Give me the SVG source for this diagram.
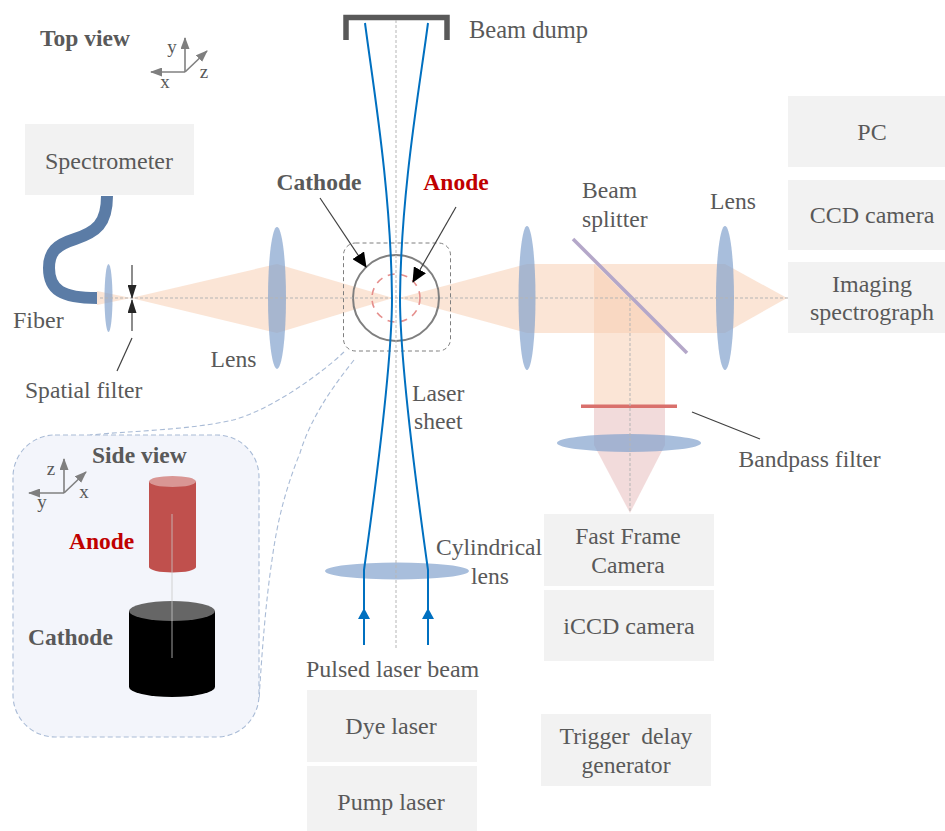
<svg xmlns="http://www.w3.org/2000/svg" width="945" height="831" viewBox="0 0 945 831">
<style>
text{font-family:"Liberation Serif","Times New Roman",serif;font-size:24px;fill:#595959}
.b{font-weight:bold;font-size:23.5px}.r{fill:#c00000}.m{text-anchor:middle}
.n{font-size:23.6px}
.ax{font-size:19px;fill:#595959}
.box{fill:#f2f2f2}
.beam{fill:#f8cbad;fill-opacity:.5}
.pink{fill:#e6b8b7;fill-opacity:.5}
.lens{fill:#7f9fcb;fill-opacity:.68}
.axis{fill:none;stroke:#b5b5b5;stroke-width:1;stroke-dasharray:3 2}
.laser{fill:none;stroke:#0070c0;stroke-width:2}
.lead{fill:none;stroke:#404040;stroke-width:1.200}
.ar{fill:none;stroke:#808080;stroke-width:1.600}
.link{fill:none;stroke:#a9bbd6;stroke-width:1.100;stroke-dasharray:5 3}
</style>
<defs>
<marker id="tip" markerUnits="userSpaceOnUse" markerWidth="15" markerHeight="14" refX="14" refY="7" orient="auto"><path d="M0,0L15,7L0,14Z" fill="#000"/></marker>
<marker id="tipS" markerUnits="userSpaceOnUse" markerWidth="14" markerHeight="9" refX="13" refY="4.500" orient="auto"><path d="M0,0L14,4.500L0,9Z" fill="#262626"/></marker>
<marker id="ga" markerUnits="userSpaceOnUse" markerWidth="12" markerHeight="9" refX="11" refY="4.500" orient="auto"><path d="M0,0L12,4.500L0,9Z" fill="#7f7f7f"/></marker>
</defs>

<g id="beams">
<polygon class="beam" points="97,291 131,298 97,305"/>
<polygon class="beam" points="131,298 277,264 277,333"/>
<polygon class="beam" points="277,264 393,298 277,333"/>
<polygon class="beam" points="399,298 527,264 527,333"/>
<rect class="beam" x="527" y="264" width="198" height="69"/>
<polygon class="beam" points="725,264 787,298 725,333"/>
<polygon class="beam" points="594,264 665,333 665,405 594,405"/>
<polygon class="pink" points="594,408 665,408 665,445 630,513 594,445"/>
</g>

<g id="side-view-links">
<path class="link" d="M344,352C320,375 270,410 233,420C190,430 130,431 90,435"/>
<path class="link" d="M354,360C330,390 310,420 300,453C285,490 277,523 272,560C266,600 262,650 259,700"/>
</g>

<g id="spectrometer"><rect class="box" x="25" y="124" width="169" height="71"/><text class="m" x="109" y="168.500">Spectrometer</text></g>
<g id="pc"><rect class="box" x="788" y="96" width="157" height="71"/><text class="m" x="872" y="140">PC</text></g>
<g id="ccd-camera"><rect class="box" x="788" y="180" width="157" height="70"/><text class="m" x="872" y="223">CCD camera</text></g>
<g id="imaging-spectrograph"><rect class="box" x="788" y="262" width="157" height="71"/><text class="m" x="872" y="291.500">Imaging</text><text class="m" x="872" y="319.500">spectrograph</text></g>
<g id="fast-frame-camera"><rect class="box" x="544" y="514" width="170" height="72"/><text class="m n" x="628" y="544">Fast Frame</text><text class="m n" x="628" y="572.500">Camera</text></g>
<g id="iccd-camera"><rect class="box" x="544" y="590" width="170" height="71"/><text class="m" x="629" y="634">iCCD camera</text></g>
<g id="trigger-delay-generator"><rect class="box" x="541" y="714" width="170" height="72"/><text class="m n" x="626" y="744" xml:space="preserve">Trigger  delay</text><text class="m n" x="626" y="772.500">generator</text></g>
<g id="dye-laser"><rect class="box" x="307" y="690" width="170" height="72"/><text class="m" x="391" y="734">Dye laser</text></g>
<g id="pump-laser"><rect class="box" x="307" y="766" width="170" height="65"/><text class="m" x="391" y="809.500">Pump laser</text></g>

<g id="beam-dump"><path d="M346,40V17.500H447V40" fill="none" stroke="#595959" stroke-width="5.500"/><text x="469" y="37.500" style="font-size:24.500px">Beam dump</text></g>

<g id="fiber"><path d="M107,196C107,224 96,232 75,239C56,245 49,252 49,268C49,290 62,298 97,298" fill="none" stroke="#5b7ca6" stroke-width="12"/><text x="13" y="327.500">Fiber</text></g>

<g id="optics">
<ellipse class="lens" cx="108.500" cy="298" rx="4" ry="34"/>
<ellipse class="lens" cx="277" cy="298" rx="9" ry="71"/>
<ellipse class="lens" cx="527" cy="298" rx="8.500" ry="72"/>
<ellipse class="lens" cx="725" cy="298" rx="9" ry="72"/>
<ellipse class="lens" cx="629" cy="443" rx="72" ry="9"/>
<ellipse class="lens" cx="397" cy="571" rx="72" ry="8.500"/>
<line x1="573" y1="239" x2="687" y2="353" stroke="#b4a7c9" stroke-width="3.500"/>
<rect x="581" y="404.500" width="96" height="3.500" fill="#d9706c"/>
</g>

<g id="electrodes">
<rect x="343.500" y="243" width="107" height="108" rx="12" fill="none" stroke="#7f7f7f" stroke-width="1" stroke-dasharray="4 3"/>
<circle cx="396" cy="298" r="43" fill="none" stroke="#7f7f7f" stroke-width="2"/>
<circle cx="396" cy="298" r="24" fill="none" stroke="#e58e8c" stroke-width="1.600" stroke-dasharray="7 6"/>
</g>

<g id="connectors">
<path class="axis" d="M396,20V648"/>
<path class="axis" d="M100,298H790"/>
<path class="axis" d="M630,298V513"/>
<path class="laser" d="M365,23C373,85 391,190 392,298C392,360 378,470 364,570V645"/>
<path class="laser" d="M428,23C420,85 401,190 400,298C400,360 414,470 428,570V645"/>
<polygon points="364,608 358,619 370,619" fill="#0070c0"/>
<polygon points="428,608 422,619 434,619" fill="#0070c0"/>
<line class="lead" x1="320" y1="198" x2="366" y2="267" marker-end="url(#tip)"/>
<line class="lead" x1="456" y1="207" x2="413" y2="282" marker-end="url(#tip)"/>
<line class="lead" x1="132" y1="265" x2="132" y2="298" stroke-width="1.500" marker-end="url(#tipS)"/>
<line class="lead" x1="132" y1="331" x2="132" y2="300" stroke-width="1.500" marker-end="url(#tipS)"/>
<line class="lead" x1="132" y1="338" x2="117" y2="371"/>
<line class="lead" x1="692" y1="412" x2="760" y2="439"/>
</g>

<g id="top-view">
<text class="b" x="40" y="46">Top view</text>
<path class="ar" d="M185,72V38" marker-end="url(#ga)"/><path class="ar" d="M185,72H151" marker-end="url(#ga)"/><path class="ar" d="M185,72L207,51" marker-end="url(#ga)"/>
<text class="ax m" x="172" y="53">y</text><text class="ax m" x="204" y="78">z</text><text class="ax m" x="165" y="88">x</text>
</g>

<g id="labels">
<text class="b m" x="319" y="190">Cathode</text>
<text class="b r m" x="456" y="190">Anode</text>
<text class="n" x="582" y="197.500">Beam</text>
<text class="n" x="582" y="226.500">splitter</text>
<text class="n" x="710" y="208.500">Lens</text>
<text class="n" x="210.500" y="366.500">Lens</text>
<text class="n" x="25" y="397.500">Spatial filter</text>
<text class="n" x="412" y="400.500">Laser</text>
<text class="n" x="414" y="428.500">sheet</text>
<text class="n" x="738.500" y="466.500">Bandpass filter</text>
<text class="n" x="436" y="554.500">Cylindrical</text>
<text class="n" x="471" y="583.500">lens</text>
<text x="306" y="676.500">Pulsed laser beam</text>
</g>

<g id="side-view">
<rect x="13" y="435" width="246" height="302" rx="42" fill="#f3f5fb" stroke="#a9bbd6" stroke-width="1.100" stroke-dasharray="5 3"/>
<text class="b" x="92" y="463">Side view</text>
<path class="ar" d="M64,493V459" marker-end="url(#ga)"/><path class="ar" d="M64,493H29" marker-end="url(#ga)"/><path class="ar" d="M64,493L86,472" marker-end="url(#ga)"/>
<text class="ax m" x="51" y="475">z</text><text class="ax m" x="84" y="498">x</text><text class="ax m" x="42" y="508">y</text>
<g id="anode-cylinder">
<path d="M149,481.500V567A23.500,5.500 0 0 0 196,567V481.500Z" fill="#c0504d"/>
<ellipse cx="172.500" cy="481.500" rx="23.500" ry="5.500" fill="#d99694"/>
</g>
<g id="cathode-cylinder">
<path d="M129,611V687A43,10 0 0 0 215,687V611Z" fill="#000"/>
<ellipse cx="172" cy="611" rx="43" ry="10" fill="#666"/>
</g>
<line x1="172" y1="514" x2="172" y2="658" stroke="#c8c8c8" stroke-width=".8"/>
<text class="b r" x="69" y="549">Anode</text>
<text class="b" x="28" y="645">Cathode</text>
</g>
</svg>
